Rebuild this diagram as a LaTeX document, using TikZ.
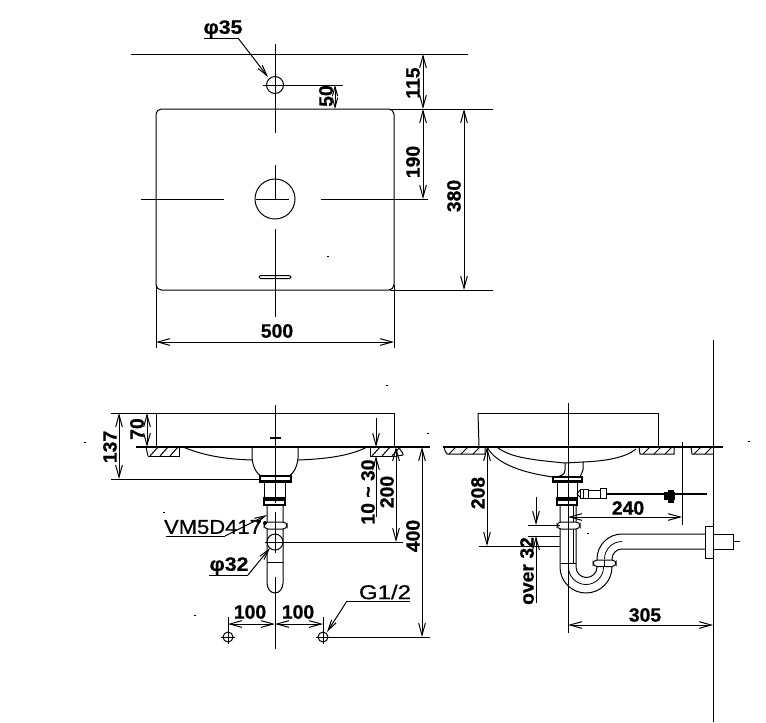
\documentclass[tikz,border=0pt]{standalone}
\usepackage{fontspec}
\setmainfont{Liberation Sans}
\newfontfamily\dimfont[FakeBold=0.7]{Liberation Sans Bold}
\newfontfamily\regfont[FakeBold=0.6]{Liberation Sans}
\usetikzlibrary{arrows.meta}
\tikzset{
  >={Straight Barb[length=9pt,width=5pt]},
  ln/.style={line width=0.75pt,black},
  thk/.style={line width=1.1pt,black},
  thn/.style={line width=0.6pt,black},
  dimline/.style={ln,<->},
  oneway/.style={ln,->},
  leader/.style={ln,-{Straight Barb[length=8pt,width=4pt]}},
  lab/.style={inner sep=0pt,font=\dimfont\fontsize{14.5pt}{15pt}\selectfont},
  reg/.style={inner sep=0pt,font=\regfont\fontsize{15pt}{16pt}\selectfont},
}
\begin{document}
\begin{tikzpicture}[x=0.75pt,y=-0.75pt]
\path[fill=white,use as bounding box] (0,0) rectangle (766,722);

%% ---------- top view ----------
\draw[ln] (131,54) -- (468,54);
\draw[ln,rounded corners=4pt] (156,109) rectangle (394,290);
\draw[ln] (390,109) -- (493,109);
\draw[ln] (390,290) -- (493,290);
\draw[ln] (275,85) circle (8.5);
\draw[ln] (275,199) circle (20);
\draw[ln] (275,44) -- (275,133);
\draw[ln] (275,165) -- (275,199);
\draw[ln] (275,229) -- (275,317);
\draw[ln] (263,85) -- (343,85);
\draw[ln] (141,199) -- (224,199);
\draw[ln] (256,199) -- (289,199);
\draw[ln] (321,199) -- (428,199);
\draw[ln,rounded corners=1.1pt] (259,275.5) rectangle (291,278.5);
\draw[ln] (156,285) -- (156,348);
\draw[ln] (394,285) -- (394,348);
\draw[dimline] (423,54) -- (423,109);
\draw[dimline] (423,109) -- (423,199);
\draw[dimline] (464,109) -- (464,290);
\draw[dimline] (156,342) -- (394,342);
\draw[ln,{Straight Barb[length=7pt,width=4pt]}-{Straight Barb[length=7pt,width=4pt]}] (335,85) -- (335,109);
\node[lab,rotate=90] (d115) at (413,83) {115};
\node[lab,rotate=90] (d50) at (326,96) {50};
\node[lab,rotate=90] (d190) at (413,162) {190};
\node[lab,rotate=90] (d380) at (454,196) {380};
\node[lab] (d500) at (277,331) {500};
\node[lab,xscale=1.1] (p35) at (223,29) {φ35};
\draw[ln] (204,38) -- (238,38);
\draw[leader] (238,38) -- (268,77);

%% ---------- front view ----------
\draw[ln] (111,413) -- (394,413);
\draw[ln] (156,413) -- (156,447);
\draw[ln] (394,413) -- (394,447);
\draw[thk] (136,447) -- (430,447);
\draw[ln] (111,479) -- (260,479);
\draw[ln] (146,447) -- (148,456);
\draw[ln] (148,456) -- (179,456) -- (179,447);
\foreach \hx in {150,160,170}{\draw[ln] (\hx,456) -- (\hx+8,447);}
\draw[ln] (370,447) -- (370,456) -- (397,456);
\foreach \hx in {372,382,392}{\draw[ln] (\hx,456) -- (\hx+8,447);}
\draw[ln] (400,447) .. controls (398,450) and (404,452) .. (403,455) -- (397,456);
% bowl
\draw[ln] (183,447) .. controls (205,456) and (225,459) .. (252,460);
\draw[ln] (298,460) .. controls (325,459) and (350,456) .. (367,447);
\draw[ln] (252,447) -- (252,458) .. controls (253,468) and (257,474) .. (261,476);
\draw[ln] (298,447) -- (298,458) .. controls (297,468) and (293,474) .. (289,476);
\draw[thk] (260,476) rectangle (291,482);
\fill[black] (260,479.5) rectangle (291,482);
\draw[ln] (264,482) -- (264,498) (285,482) -- (285,498);
\draw[thk] (264,498) rectangle (285,505);
\fill[black] (264,498) rectangle (285,501);
\draw[ln] (267,505) -- (267,583) arc (180:0:8 and 10) -- (283,505);
\draw[ln] (267,562) -- (283,562);
\draw[ln,fill=white,rounded corners=3pt] (264,522) rectangle (287,529);
\draw[ln,fill=white] (275,542) circle (8);
\draw[ln] (275,405) -- (275,503);
\draw[ln] (275,512) -- (275,553);
\draw[ln] (275,577) -- (275,649);
\draw[line width=2pt] (270,438) -- (281,438);
\draw[ln] (265,542) -- (403,542);
% spigots
\draw[ln] (228,637) circle (5);
\draw[ln] (323,637) circle (5);
\draw[ln] (221,637) -- (235,637) (228,630) -- (228,644);
\draw[ln] (316,637) -- (430,637) (323,630) -- (323,644);
\draw[ln] (228,617) -- (228,630);
\draw[ln] (323,617) -- (323,630);
% dims
\draw[dimline] (119,413) -- (119,479);
\draw[dimline] (147,413) -- (147,447);
\draw[dimline] (396,447) -- (396,542);
\draw[dimline] (422,447) -- (422,637);
\draw[dimline] (228,624) -- (275,624);
\draw[dimline] (275,624) -- (323,624);
\draw[oneway] (376,418) -- (376,447);
\draw[oneway] (376,517) -- (376,456);
\node[lab,rotate=90] (d137) at (110,447) {137};
\node[lab,rotate=90] (d70) at (137,429) {70};
\node[lab,rotate=90] (d10) at (368,492) {10 \textasciitilde{} 30};
\node[lab,rotate=90] (d200) at (387,492) {200};
\node[lab,rotate=90] (d400) at (413,536) {400};
\node[lab] (a100) at (250,612) {100};
\node[lab] (b100) at (298,612) {100};
\node[reg,xscale=1.1] (vm) at (213,527) {VM5D417};
\draw[ln] (166,536) -- (225,536);
\draw[leader] (225,536) -- (267,515);
\fill (265,523) circle (2);
\node[lab,xscale=1.1] (p32) at (229,566) {φ32};
\draw[ln] (209,575) -- (248,575);
\draw[leader] (248,575) -- (270,548);
\node[reg,xscale=1.2] (g12) at (385,592) {G1/2};
\draw[ln] (347,601) -- (410,601);
\draw[leader] (347,601) -- (327,632);

%% ---------- side view ----------
\draw[ln] (478,413) -- (658,413);
\draw[ln] (478,413) -- (479,447);
\draw[ln] (658,413) -- (658,447);
\draw[thk] (443,447) -- (723,447);
\draw[ln] (713,340) -- (713,722);
\draw[ln] (568,403) -- (568,633);
\draw[ln] (682,442) -- (682,525);
% counter hatching
\draw[ln] (444,447) .. controls (445,450) and (445,452) .. (447,454) -- (485,454) -- (485,447);
\foreach \hx in {449,461,473}{\draw[ln] (\hx,454) -- (\hx+7,447);}
\draw[ln] (639,447) -- (640,454) -- (674,454) -- (674,447);
\foreach \hx in {643,654,665}{\draw[ln] (\hx,454) -- (\hx+7,447);}
\draw[ln] (691,447) -- (692,454) -- (713,454);
\foreach \hx in {694,705}{\draw[ln] (\hx,454) -- (\hx+7,447);}
% basin curves
\draw[ln] (487,447) .. controls (497,465) and (525,473) .. (553,477);
\draw[ln] (497,447) .. controls (510,458) and (535,460) .. (565,463);
\draw[ln] (565,463) -- (583,462);
\draw[ln] (583,462) .. controls (605,461) and (625,458) .. (636,449);
\draw[ln] (565,463) -- (565,470) .. controls (565,475) and (560,477) .. (553,477);
\draw[ln] (583,462) -- (583,470) -- (580,477);
% drain
\draw[thk] (553,477) rectangle (582,482);
\fill (553,480) rectangle (582,482);
\draw[ln] (557,482) -- (557,498) (577,482) -- (577,498);
\draw[thk] (557,498) rectangle (577,505);
\fill (557,498) rectangle (577,501);
% fitting and hose
\draw[ln] (580,489) rectangle (588,498);
\draw[ln] (583,489) -- (583,498);
\draw[ln] (588,490) rectangle (600,498);
\draw[ln] (600,488) rectangle (606,498);
\draw[ln] (577,494) -- (580,490) (577,494) -- (580,497);
\draw[line width=1.9pt] (606,494) -- (707,494);
\fill (664,492) rectangle (675,500);
\fill (668,490) rectangle (674,503);
% trap
\draw[ln] (560,505) -- (560,567) arc (180:0:26) -- (612,559);
\draw[ln] (576,505) -- (576,567) arc (180:0:10.5) -- (597,559);
\draw[ln] (573,505) -- (573,563);
\draw[ln] (560,563) -- (576,563);
\draw[thn] (568.5,567) arc (180:0:17.5);
\draw[ln,fill=white,rounded corners=3pt] (557,522) rectangle (580,529);
\draw[ln] (568,522) -- (568,529);
\draw[ln] (597,559) arc (180:270:25) -- (705,534);
\draw[ln] (612,559) arc (180:270:10) -- (705,549);
\draw[thn] (604.5,559) arc (180:270:17.5);
\draw[ln,fill=white,rounded corners=3pt] (593,560) rectangle (616,566.5);
\draw[ln] (604.5,560) -- (604.5,566.5);
\draw[ln] (705,526) rectangle (713,558);
\draw[ln] (713,534) -- (733,534) -- (733,549) -- (713,549);
\draw[ln] (733,541.7) -- (740,541.7);
% dims
\draw[ln] (479,546) -- (560,546);
\draw[ln] (528,525) -- (560,525);
\draw[ln] (528,536) -- (560,536);
\draw[dimline] (487,447) -- (487,546);
\draw[oneway] (536,497) -- (536,525);
\draw[oneway] (536,603) -- (536,536);
\draw[dimline] (568,517) -- (682,517);
\draw[dimline] (568,625) -- (713,625);
\node[lab,rotate=90] (d208) at (478,493) {208};
\node[lab,rotate=90] (over) at (527,571) {over 32};
\node[lab] (d240) at (628,508) {240};
\node[lab] (d305) at (645,615) {305};

%% ---------- stray specks ----------
\foreach \sx/\sy in {328/256,387/385,85/442,164/512,428/433,749/441,588/533,195/615}{
  \fill (\sx-0.8,\sy-0.5) rectangle (\sx+0.8,\sy+0.5);
}
\end{tikzpicture}
\end{document}
